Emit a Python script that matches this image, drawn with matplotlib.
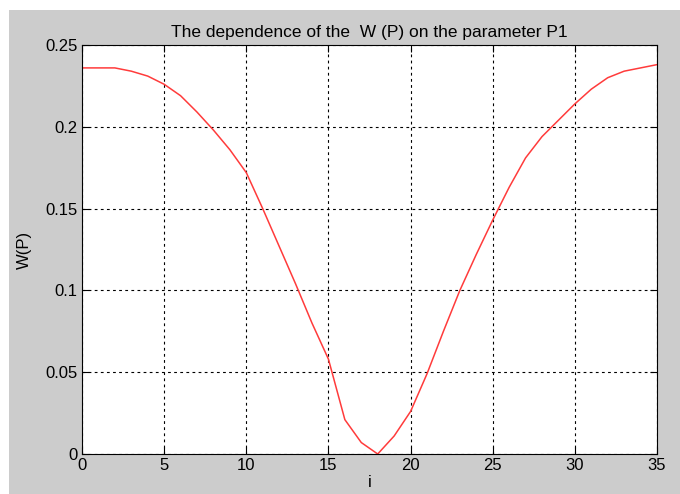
import matplotlib
matplotlib.use('Agg')
import numpy as np
from matplotlib import pyplot as plt
from matplotlib.patches import Rectangle

plt.rcParams['font.family'] = ['Liberation Sans', 'DejaVu Sans']

# values
i_vals = list(range(36))
w_vals = [0.236, 0.236, 0.236, 0.234, 0.231, 0.226, 0.219, 0.209, 0.198, 0.186,
          0.172, 0.150, 0.127, 0.104, 0.080, 0.058, 0.021, 0.007, 0.000, 0.011,
          0.026, 0.049, 0.075, 0.100, 0.122, 0.143, 0.163, 0.181, 0.194, 0.204,
          0.214, 0.223, 0.230, 0.234, 0.236, 0.238]
x_ticks = [0, 5, 10, 15, 20, 25, 30, 35]
y_ticks = [0, 0.05, 0.1, 0.15, 0.2, 0.25]
y_labels = ['0', '0.05', '0.1', '0.15', '0.2', '0.25']

fig = plt.figure(figsize=(6.8, 4.94), dpi=100, facecolor='white')
# gray figure area with a thin white margin on top and left
fig.patches.append(Rectangle((9 / 680, 0), 1, 1 - 10 / 494, transform=fig.transFigure,
                             facecolor='#cccccc', edgecolor='none', zorder=-10))

ax = fig.add_axes([82 / 680, 1 - 454 / 494, (657 - 82) / 680, (454 - 45) / 494])
ax.plot(i_vals, w_vals, color='#ff3b3b', lw=1.1)
ax.set_xlim(0, 35)
ax.set_ylim(0, 0.25)
ax.set_xticks(x_ticks)
ax.set_yticks(y_ticks)
ax.set_yticklabels(y_labels)
ax.grid(True, color='black', linestyle=(0, (2.5, 3)), linewidth=0.8)
ax.tick_params(direction='in', top=True, right=True, length=5, labelsize=12, pad=3)
for s in ax.spines.values():
    s.set_color('black')
    s.set_linewidth(0.8)
ax.set_title('The dependence of the  W (P) on the parameter P1', fontsize=12.5, pad=6)
ax.set_xlabel('i', fontsize=12, labelpad=1)
ax.set_ylabel('W(P)', fontsize=12, labelpad=10)

plt.savefig('out.png', dpi=100, facecolor=fig.get_facecolor())
